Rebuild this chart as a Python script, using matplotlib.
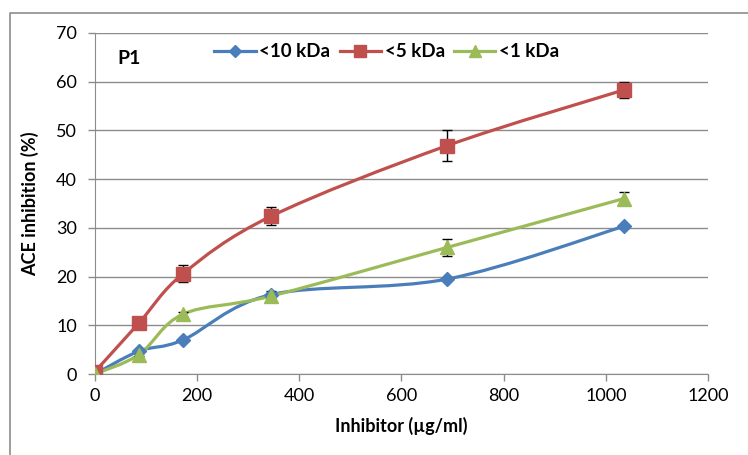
import numpy as np
import matplotlib.pyplot as plt
from matplotlib.path import Path
from matplotlib.patches import PathPatch
from matplotlib.lines import Line2D

plt.rcParams['font.family'] = ['Lato', 'DejaVu Sans']

# inhibitor concentration (ug/ml)
conc = [0, 86.25, 172.5, 345, 690, 1035]

kda10 = [0.0, 4.7, 7.0, 16.3, 19.5, 30.3]
kda10_err = [0.0, 0.3, 0.3, 0.4, 0.3, 0.3]
kda5 = [0.5, 10.5, 20.6, 32.4, 46.9, 58.3]
kda5_err = [0.0, 0.4, 1.7, 1.9, 3.2, 1.6]
kda1 = [0.0, 4.0, 12.3, 16.0, 26.0, 36.0]
kda1_err = [0.0, 0.3, 0.5, 1.0, 1.8, 1.4]

series = [
    ('<10 kDa', kda10, kda10_err, '#4A7EBB', 'D', 7.5),
    ('<5 kDa', kda5, kda5_err, '#C0504D', 's', 9.5),
    ('<1 kDa', kda1, kda1_err, '#9BBB59', '^', 9.5),
]


def smooth_path(xs, ys):
    # excel-style smoothed line: cubic bezier through the points
    p = np.column_stack([xs, ys]).astype(float)
    n = len(p)
    verts = [p[0]]
    codes = [Path.MOVETO]
    for i in range(n - 1):
        p0 = p[i - 1] if i > 0 else p[i]
        p3 = p[i + 2] if i + 2 < n else p[i + 1]
        c1 = p[i] + (p[i + 1] - p0) / 6
        c2 = p[i + 1] - (p3 - p[i]) / 6
        verts += [c1, c2, p[i + 1]]
        codes += [Path.CURVE4] * 3
    return Path(verts, codes)


fig = plt.figure(figsize=(7.48, 4.55), dpi=100)
ax = fig.add_axes([0.127, 0.178, 0.8195, 0.7495])

handles = []
for label, vals, err, color, marker, ms in series:
    ax.add_patch(PathPatch(smooth_path(conc, vals), fill=False, edgecolor=color,
                           lw=2.3, zorder=3, capstyle='round'))
    ax.errorbar(conc, vals, yerr=err, fmt='none', ecolor='black', elinewidth=1,
                capsize=3.5, capthick=1, zorder=4)
    ax.plot(conc, vals, ls='none', marker=marker, ms=ms, color=color, zorder=5)
    handles.append(Line2D([], [], color=color, lw=2.3, marker=marker, ms=ms - 1.5, label=label))

ax.set_xlim(0, 1200)
ax.set_ylim(0, 70)
ax.set_xticks(range(0, 1201, 200))
ax.set_yticks(range(0, 71, 10))
ax.yaxis.grid(True, color='#8c8c8c', lw=1)
ax.set_axisbelow(True)
for s in ['top', 'right']:
    ax.spines[s].set_visible(False)
for s in ['left', 'bottom']:
    ax.spines[s].set_color('#8c8c8c')
ax.tick_params(colors='#8c8c8c', labelcolor='black', labelsize=13, length=5, width=1)
ax.tick_params(axis='y', pad=8)
ax.tick_params(axis='x', pad=5)
ax.set_xlabel('Inhibitor (µg/ml)', fontsize=13, fontweight='bold', labelpad=9)
ax.set_ylabel('ACE inhibition (%)', fontsize=13, fontweight='bold', labelpad=12)
for lbl in ax.get_xticklabels() + ax.get_yticklabels():
    lbl.set_clip_on(False)

ax.text(0.037, 0.926, 'P1', transform=ax.transAxes, fontsize=14, fontweight='bold',
        va='center')
leg = ax.legend(handles=handles, loc='center', bbox_to_anchor=(0.476, 0.945), ncol=3,
                frameon=False, handlelength=2.2, columnspacing=0.5,
                handletextpad=0.2, prop={'weight': 'bold', 'size': 13.5})

# chart area border (left and top edges visible)
fig.add_artist(Line2D([0.014, 0.014, 1.0], [0.0, 0.972, 0.972], color='#8c8c8c', lw=1.2))

fig.savefig('out.png', dpi=100)
